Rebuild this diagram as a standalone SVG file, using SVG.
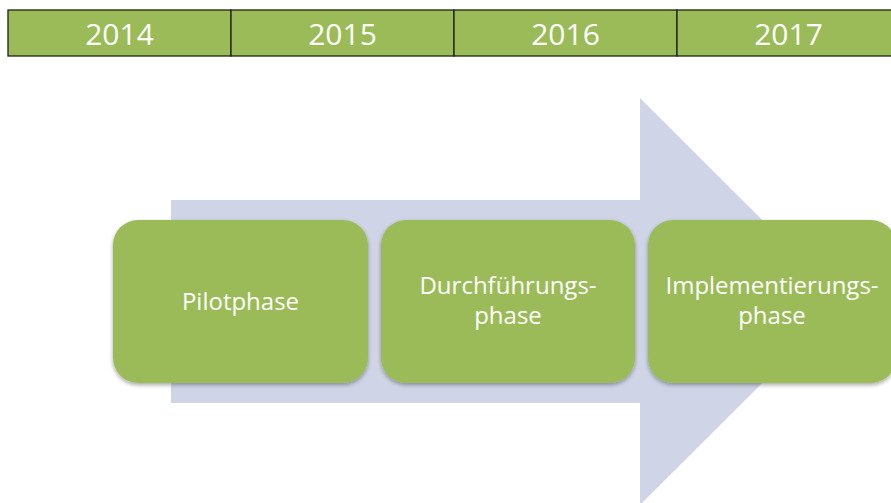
<svg xmlns="http://www.w3.org/2000/svg" width="891" height="503" viewBox="0 0 891 503">
<style>
.cell{fill:#9bbb59;stroke:#1e2410;stroke-width:1.3}
.year{font-family:"Open Sans","Noto Sans",sans-serif;font-size:30px;fill:#fff;text-anchor:middle}
.box{fill:#9bbb59;filter:url(#sh)}
.lbl{font-family:"Open Sans","Noto Sans",sans-serif;font-size:24px;fill:#fff;text-anchor:middle}
</style>
<defs>
<filter id="sh" x="-10%" y="-10%" width="120%" height="130%">
<feGaussianBlur in="SourceAlpha" stdDeviation="2"/>
<feOffset dx="0" dy="2" result="b"/>
<feComponentTransfer><feFuncA type="linear" slope="0.35"/></feComponentTransfer>
<feMerge><feMergeNode/><feMergeNode in="SourceGraphic"/></feMerge>
</filter>
</defs>
<rect width="891" height="503" fill="#fff"/>
<g id="timeline">
<g id="y2014"><rect class="cell" x="8" y="10" width="223" height="46"/><text class="year" x="119.5" y="45">2014</text></g>
<g id="y2015"><rect class="cell" x="231" y="10" width="223" height="46"/><text class="year" x="342.5" y="45">2015</text></g>
<g id="y2016"><rect class="cell" x="454" y="10" width="223" height="46"/><text class="year" x="565.5" y="45">2016</text></g>
<g id="y2017"><rect class="cell" x="677" y="10" width="223" height="46"/><text class="year" x="788.5" y="45">2017</text></g>
</g>
<g id="connectors">
<path d="M171 200 H640 V98 L844 301.5 L640 505 V403 H171 Z" fill="#cfd5e6"/>
</g>
<g id="pilot"><rect class="box" x="113" y="220" width="255" height="163" rx="25"/><text class="lbl" x="240.5" y="310">Pilotphase</text></g>
<g id="durch"><rect class="box" x="381" y="220" width="254" height="163" rx="25"/><text class="lbl" x="508" y="294">Durchführungs-</text><text class="lbl" x="508" y="324">phase</text></g>
<g id="impl"><rect class="box" x="648" y="220" width="248" height="163" rx="25"/><text class="lbl" x="772" y="294">Implementierungs-</text><text class="lbl" x="772" y="324">phase</text></g>
</svg>
